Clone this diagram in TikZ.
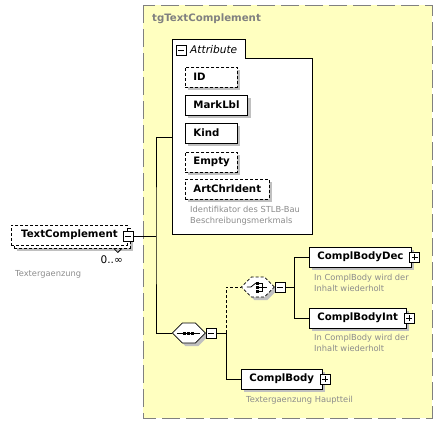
\documentclass[tikz,border=0pt]{standalone}
\usepackage{fontspec}
\setmainfont{DejaVu Sans}
\usetikzlibrary{shapes.misc,shadows}
\definecolor{groupfill}{RGB}{255,255,192}
\definecolor{groupline}{RGB}{128,128,128}
\definecolor{shadowgray}{RGB}{192,192,192}
\definecolor{descgray}{RGB}{140,140,140}
\newcommand{\elemfont}{\fontsize{10.2}{12}\selectfont\bfseries}
\newcommand{\descfont}{\fontsize{8.3}{11}\selectfont}
\tikzset{
    box/.style={draw, fill=white, anchor=west, font=\elemfont, minimum height=20pt,
        inner xsep=8pt, inner ysep=0pt, line width=0.8pt},
    shadowed/.style={drop shadow={shadow xshift=3pt, shadow yshift=-3pt, fill=shadowgray, opacity=1}},
    elem/.style={box, shadowed},
    optional/.style={dash pattern=on 3pt off 2pt},
    short/.style={text width=36pt, align=left},
    wide/.style={},
    desc/.style={anchor=north west, inner sep=0pt, align=left, text=descgray, font=\descfont},
    compositor/.style={chamfered rectangle, chamfered rectangle xsep=5pt, chamfered rectangle ysep=5pt,
        draw, fill=white, anchor=west, inner sep=0pt, line width=0.8pt, shadowed},
    minusbox/.style={draw, fill=white, minimum size=10pt, inner sep=0pt, line width=0.8pt,
        path picture={\draw[line width=0.8pt] ([xshift=2pt]path picture bounding box.west)
            -- ([xshift=-2pt]path picture bounding box.east);}},
    plusbox/.style={draw, fill=white, minimum size=10pt, inner sep=0pt, line width=0.8pt,
        path picture={\draw[line width=0.8pt] ([xshift=2pt]path picture bounding box.west)
            -- ([xshift=-2pt]path picture bounding box.east);
            \draw[line width=0.8pt] ([yshift=-2pt]path picture bounding box.north)
            -- ([yshift=2pt]path picture bounding box.south);}},
    wire/.style={line width=0.8pt}
}
\newcommand{\compbody}{\rule[-5pt]{23pt}{0pt}\rule[-5pt]{0pt}{10pt}}
\begin{document}
\begin{tikzpicture}[x=1pt,y=-1pt]
    \useasboundingbox (0,0) rectangle (443,426);
    % group
    \draw[groupline, fill=groupfill, line width=1pt, dash pattern=on 18pt off 6pt] (143,5) rectangle (432,418);
    \node[anchor=west, inner sep=0pt, text=groupline, font=\elemfont] (gtitle) at (152,19) {tgTextComplement};
    % attribute box with tab
    \draw[fill=white, line width=0.8pt] (172,39) -- (245,39) -- (245,58) -- (312,58) -- (312,234) -- (172,234) -- cycle;
    \node[minusbox] (attrm) at (181,50) {};
    \node[anchor=west, inner sep=0pt, font=\fontsize{10.6}{12}\selectfont\itshape] (attrlbl) at (190,50) {Attribute};
    \foreach \n/\y/\d/\w in {ID/77/optional/short, MarkLbl/105/solid/wide, Kind/133/solid/short,
        Empty/162/optional/short, ArtChrIdent/189/optional/wide}
        \node[elem, \d, \w] (a\n) at (185,\y) {\n};
    \node[desc] (attrdesc) at (190,206) {Identifikator des STLB-Bau\\Beschreibungsmerkmals};
    \coordinate (attrin) at (172,137);
    % root element
    \node[elem, optional, minimum width=116pt] (tcback) at (14,238) {};
    \node[box, optional, minimum width=116pt] (tc) at (11,235) {TextComplement};
    \draw[wire] ([xshift=-17pt]tcback.south east) -- ++(4,4) -- ++(4,-4);
    \node[minusbox] (tcm) at (128,236) {};
    \node[anchor=east, inner sep=0pt, font=\fontsize{10.5}{11}\selectfont] (tcocc) at (123,260) {0..∞};
    \node[desc] (tcdesc) at (15,270) {Textergaenzung};
    % sequence
    \node[compositor] (seq) at (172,333) {\compbody};
    \draw[wire] ([xshift=-12pt]seq.center) -- ([xshift=11pt]seq.center);
    \foreach \dx in {-4,0,4}
        \fill ([xshift=\dx pt]seq.center) +(-1.5,-1.5) rectangle +(1.5,1.5);
    \node[minusbox] (seqm) at (211,333) {};
    % choice
    \node[compositor, optional] (ch) at (241,287) {\compbody};
    \draw[wire] ([xshift=-11pt]ch.center) -- ++(4,0) -- ++(5,-4);
    \foreach \dy in {-4,0,4}
        \fill ([shift={(0,\dy)}]ch.center) +(-1.5,-1.5) rectangle +(1.5,1.5);
    \draw[wire] ([shift={(1,-4)}]ch.center) -- ++(3,0) -- ++(0,8) -- ++(-3,0);
    \draw[wire] ([xshift=1pt]ch.center) -- ++(8,0);
    \node[minusbox] (chm) at (280,287) {};
    % child elements
    \node[elem] (cbd) at (309,257) {ComplBodyDec};
    \node[plusbox] (cbdp) at ([xshift=3pt]cbd.east) {};
    \node[desc] (cbddesc) at (314,274) {In ComplBody wird der\\Inhalt wiederholt};
    \node[elem] (cbi) at (309,318) {ComplBodyInt};
    \node[plusbox] (cbip) at ([xshift=3pt]cbi.east) {};
    \node[desc] (cbidesc) at (314,334) {In ComplBody wird der\\Inhalt wiederholt};
    \node[elem] (cb) at (241,379) {ComplBody};
    \node[plusbox] (cbp) at ([xshift=3pt]cb.east) {};
    \node[desc] (cbdesc) at (246,396) {Textergaenzung Hauptteil};
    % connectors
    \coordinate (j1) at (156,236);
    \coordinate (j2) at (226,333);
    \coordinate (j3) at (294,287);
    \draw[wire] (tcm.east) -- (j1);
    \draw[wire] (attrin) -| (j1) |- (seq.west);
    \draw[wire] (seqm.east) -- (j2);
    \draw[wire, optional] (j2) |- (ch.west);
    \draw[wire] (j2) |- (cb.west);
    \draw[wire] (chm.east) -- (j3);
    \draw[wire] (j3) |- (cbd.west);
    \draw[wire] (j3) |- (cbi.west);
\end{tikzpicture}
\end{document}
